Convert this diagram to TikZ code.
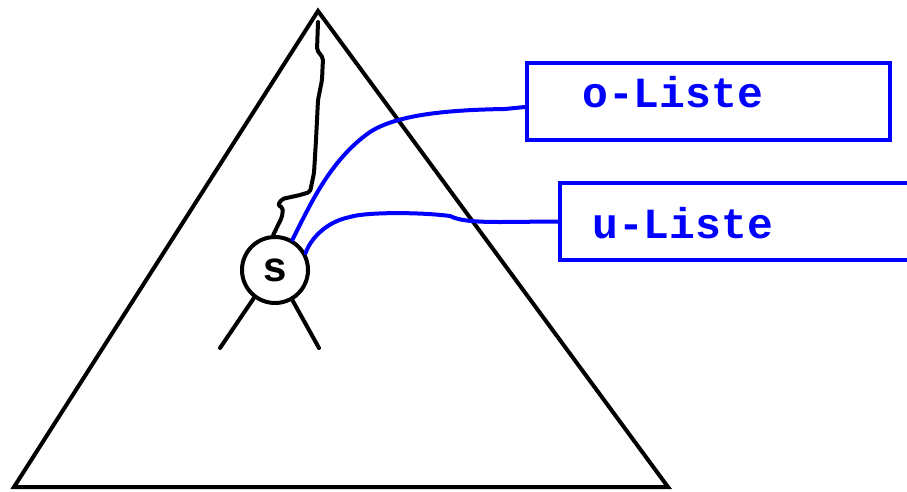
\documentclass[tikz,border=0pt]{standalone}
\usepackage{fontspec}
\setmonofont{Liberation Mono}
\tikzset{
  blk/.style={line width=4pt, line join=round, line cap=round},
  blu/.style={draw=blue, line width=4pt, line cap=round, line join=round},
  lbl/.style={font=\ttfamily\bfseries\fontsize{43}{50}\selectfont, text=blue, inner sep=0pt, anchor=base west},
  listbox/.style={draw=blue, line width=4pt, minimum height=77pt, inner sep=0pt, anchor=west},
  knot/.style={draw, circle, line width=4pt, minimum size=66pt, inner sep=0pt, font=\ttfamily\bfseries\fontsize{42}{48}\selectfont},
}
\begin{document}
\begin{tikzpicture}[x=1pt,y=-1pt]
\clip (0,0) rectangle (907,491);
\fill[white] (0,0) rectangle (907,491);
% triangle
\coordinate (top) at (318,11);
\coordinate (bl) at (14,487);
\coordinate (br) at (668,487);
\draw[line width=4pt, line join=miter] (top) -- (br) -- (bl) -- cycle;
% node s
\node[knot] (s) at (275,270) {s};
\coordinate (l1) at (220,348);
\coordinate (r1) at (319,348);
\draw[blk] (s.233) -- (l1);
\draw[blk] (s.300) -- (r1);
% wiggly path from the apex
\coordinate (w0) at (318,22);
\draw[blk, rounded corners=2pt] (w0) -- (317,50) -- (323,58) -- (322,80) -- (318,100) -- (316,140) -- (314,173) -- (310,192) -- (300,195) -- (282,199) -- (278,205) -- (283,208) -- (282,217) -- (s.93);
% boxes
\node[listbox, minimum width=363pt] (o) at (525,101.5) {};
\node[listbox, minimum width=420pt] (u) at (558,221.5) {};
\node[lbl] (ot) at (582,107) {o-Liste};
\node[lbl] (ut) at (592,238) {u-Liste};
% blue connectors
\draw[blu] (s.60) .. controls (310,205) and (330,160) .. (370,132)
  .. controls (395,116) and (440,110) .. (505,109) -- ([yshift=-5.5pt]o.west);
\draw[blu] (s.29) .. controls (310,240) and (325,222) .. (350,217)
  .. controls (365,212) and (420,212) .. (450,216) .. controls (458,220) and (470,222) .. (500,222) -- (u.west);
\end{tikzpicture}
\end{document}
